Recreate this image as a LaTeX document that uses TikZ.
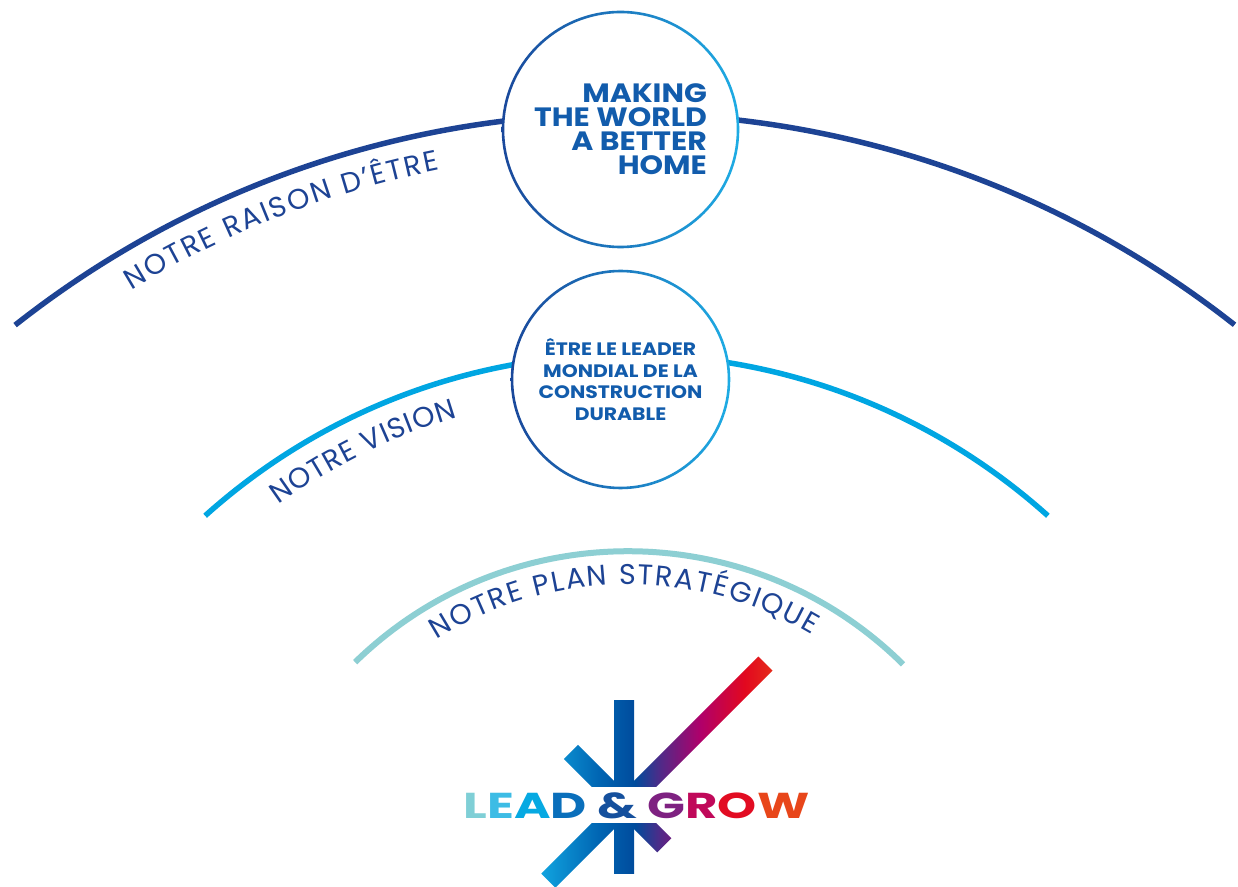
\documentclass[tikz,border=0pt]{standalone}
\usepackage{fontspec}
\setmainfont{Poppins}
\newfontfamily\labelfont{Poppins}
\newfontfamily\circfont{Poppins}[FakeStretch=1.13]
\usetikzlibrary{positioning, calc, decorations.text}
\definecolor{rdeblue}{RGB}{29,67,148}
\definecolor{visionblue}{RGB}{0,166,226}
\definecolor{planteal}{RGB}{141,207,211}
\definecolor{ringdark}{RGB}{26,72,155}
\definecolor{ringlight}{RGB}{30,172,228}
\definecolor{circtext}{RGB}{18,92,172}
\definecolor{lgteal}{RGB}{127,207,214}
\definecolor{lgcyan}{RGB}{20,176,232}
\definecolor{lgblue}{RGB}{0,100,178}
\definecolor{lgdark}{RGB}{0,75,156}
\definecolor{lgpurple}{RGB}{80,42,136}
\definecolor{lgmagenta}{RGB}{176,0,106}
\definecolor{lgred}{RGB}{226,8,31}
\definecolor{lgorange}{RGB}{234,91,19}
\pgfdeclarehorizontalshading{lgshade}{100bp}{color(0bp)=(lgteal); color(25bp)=(lgteal); color(34.6bp)=(lgcyan); color(44.7bp)=(lgblue); color(49.8bp)=(lgdark); color(53.4bp)=(lgpurple); color(59.2bp)=(lgmagenta); color(65.6bp)=(lgred); color(75bp)=(lgorange); color(100bp)=(lgorange)}
\tikzset{%
	orbit/.style={line width=5.5pt},
	arctext/.style={decorate, decoration={text along path, text align={fit to path}, text color=rdeblue,%
		text={|\labelfont\fontsize{28.5}{28.5}\selectfont|#1}}},
	bubble/.style={circle, fill=white, inner sep=0pt, outer sep=0pt, text=circtext},
	raison/.style={bubble, minimum size=235pt, align=right, font={\circfont\fontsize{26.5}{24}\bfseries}},
	vision/.style={bubble, minimum size=217pt, align=center, font={\circfont\fontsize{18}{21.6}\bfseries}},
	ring/.style={left color=ringdark, right color=ringlight, even odd rule},
	lgfill/.style={shading=lgshade},
	lgtext/.style={inner sep=0pt, anchor=base, font={\fontsize{36}{36}\bfseries}}
}
\begin{document}
\begin{tikzpicture}[x=1pt, y=1pt]
	\useasboundingbox[fill=white] (0,0) rectangle (1238,886);
	\coordinate (oraison) at (625,-212.5);
	\coordinate (ovision) at (626.5,-99.4);
	\coordinate (oplan) at (628,-56.2);
	\coordinate (burst) at (624,81);

	\draw[orbit, rdeblue] ($(oraison)+(128.26:985)$) arc[start angle=128.26, end angle=51.77, radius=985];
	\draw[orbit, visionblue] ($(ovision)+(131.9:631)$) arc[start angle=131.9, end angle=48.1, radius=631];
	\draw[orbit, planteal, line width=6pt] ($(oplan)+(134.26:391)$) arc[start angle=134.26, end angle=45.3, radius=391];

	\path[arctext={NOTRE RAISON D’ÊTRE}] ($(oraison)+(121.4:947)$) arc[start angle=121.4, end angle=101.3, radius=947];
	\path[arctext={NOTRE VISION}] ($(ovision)+(125.9:593)$) arc[start angle=125.9, end angle=106.6, radius=593];
	\path[arctext={NOTRE PLAN STRATÉGIQUE}] ($(oplan)+(122.3:358)$) arc[start angle=122.3, end angle=59.1, radius=358];

	\node[raison] (raison) at (620.5,756.5) {MAKING\\THE WORLD\\A BETTER\\HOME};
	\node[vision, below=24pt of raison] (vision) {ÊTRE LE LEADER\\MONDIAL DE LA\\CONSTRUCTION\\DURABLE};
	\shade[ring] (raison.center) circle[radius=118.8] (raison.center) circle[radius=116.2];
	\shade[ring] (vision.center) circle[radius=109.8] (vision.center) circle[radius=107.2];

	\begin{scope}
		\clip[rotate around={45:(burst)}] ($(burst)+(-107,-10)$) rectangle ($(burst)+(200,10)$);
		\shade[lgfill] (463,0) rectangle (810,240);
	\end{scope}
	\begin{scope}
		\clip[rotate around={135:(burst)}] ($(burst)+(-57,-10)$) rectangle ($(burst)+(75,10)$);
		\shade[lgfill] (463,0) rectangle (810,240);
	\end{scope}
	\begin{scope}
		\clip (614,13) rectangle (634,186);
		\shade[lgfill] (463,0) rectangle (810,240);
	\end{scope}
	\fill[white] (530,63) rectangle (720,99);
	\node[lgtext] (lg) at (636.5,68) {\scalebox{1.38}[1]{\textcolor{lgteal}{L}\textcolor[RGB]{61,188,229}{E}\textcolor[RGB]{6,169,226}{A}\textcolor[RGB]{10,111,187}{D} \textcolor[RGB]{21,80,157}{\&} \textcolor[RGB]{126,33,129}{G}\textcolor[RGB]{192,9,90}{R}\textcolor[RGB]{226,12,34}{O}\textcolor[RGB]{232,70,26}{W}}};
\end{tikzpicture}
\end{document}
